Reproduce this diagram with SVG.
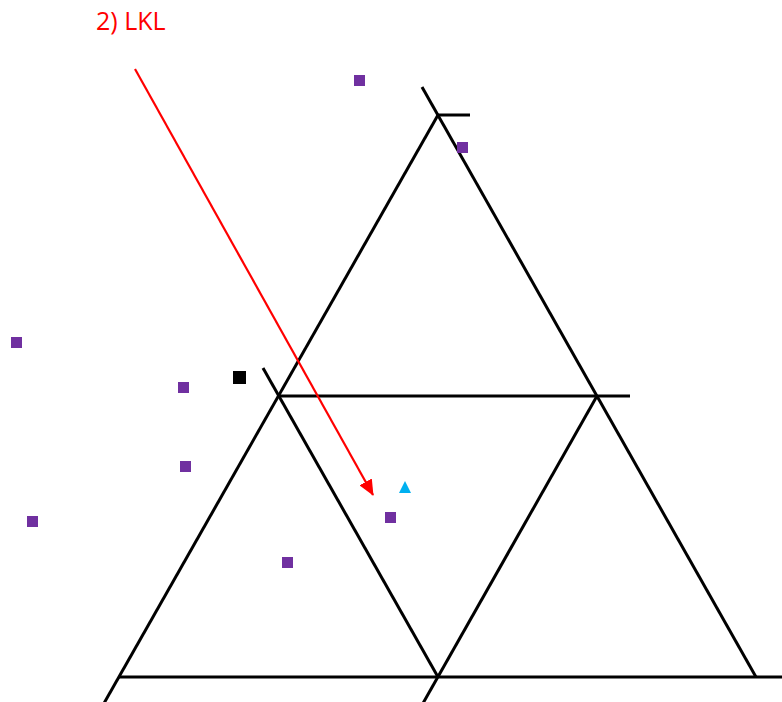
<svg xmlns="http://www.w3.org/2000/svg" width="782" height="702" viewBox="0 0 782 702">
<style>
.g{stroke:#000;stroke-width:3;fill:none;stroke-linecap:butt}
.p{fill:#7030A0}
.lbl{font-family:"Open Sans","Noto Sans",sans-serif;font-size:25px;fill:#FF0000}
</style>
<defs>
<marker id="ah" markerWidth="16" markerHeight="14" refX="15" refY="7" orient="auto" markerUnits="userSpaceOnUse" viewBox="0 0 16 14">
<polygon points="0,0 16,7 0,14" fill="#FF0000"/>
</marker>
</defs>
<rect width="782" height="702" fill="#fff"/>
<g id="grid">
<line class="g" x1="438" y1="115" x2="470" y2="115"/>
<line class="g" x1="278" y1="396" x2="630" y2="396"/>
<line class="g" x1="119" y1="677" x2="790" y2="677"/>
<line class="g" x1="103" y1="705" x2="438" y2="115"/>
<line class="g" x1="422" y1="87" x2="756" y2="677"/>
<line class="g" x1="263" y1="368" x2="438" y2="677"/>
<line class="g" x1="422" y1="705" x2="597" y2="396"/>
</g>
<g id="points">
<rect class="p" x="354" y="75" width="11" height="11"/>
<rect class="p" x="457" y="142" width="11" height="11"/>
<rect class="p" x="11" y="337" width="11" height="11"/>
<rect class="p" x="178" y="382" width="11" height="11"/>
<rect class="p" x="180" y="461" width="11" height="11"/>
<rect class="p" x="27" y="516" width="11" height="11"/>
<rect class="p" x="385" y="512" width="11" height="11"/>
<rect class="p" x="282" y="557" width="11" height="11"/>
<rect x="233" y="371" width="13" height="13" fill="#000"/>
<polygon points="405,481 411,493 399,493" fill="#00B0F0"/>
</g>
<g id="connectors">
<line x1="135" y1="69" x2="373" y2="495" stroke="#FF0000" stroke-width="2.2" marker-end="url(#ah)"/>
</g>
<text class="lbl" x="96" y="30">2) LKL</text>
</svg>
